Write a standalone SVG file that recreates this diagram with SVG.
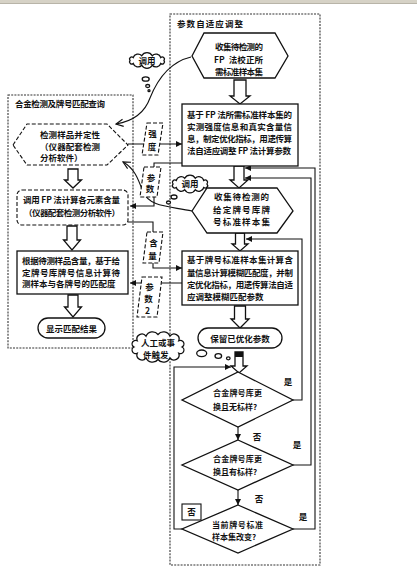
<svg xmlns="http://www.w3.org/2000/svg" width="417" height="581" viewBox="0 0 417 581">
<style>
.b{fill:#fff;stroke:#111;stroke-width:1.3}
.d{fill:#fff;stroke:#111;stroke-width:1.1;stroke-dasharray:4 2}
.c{fill:none;stroke:#333;stroke-width:1.1;stroke-dasharray:2 1.2}
.ln{fill:none;stroke:#111;stroke-width:1.1}
.t{font-family:"Noto Sans CJK SC","Noto Sans CJK JP",sans-serif;font-size:8.5px;font-weight:bold;fill:#111}
.m{text-anchor:middle}
.s{font-size:8px}
</style>
<defs>
<marker id="ah" viewBox="0 0 6 6" refX="6" refY="3" markerWidth="6" markerHeight="6" markerUnits="userSpaceOnUse" orient="auto"><path d="M0,0 L6,3 L0,6 z" fill="#111"/></marker>
<marker id="ov" viewBox="0 0 10 10" refX="9" refY="5" markerWidth="9" markerHeight="9" markerUnits="userSpaceOnUse" orient="auto"><path d="M1,1 L9,5 L1,9" fill="none" stroke="#111" stroke-width="1.3"/></marker>
</defs>
<rect x="0" y="0" width="417" height="581" fill="#fff"/>
<rect x="0" y="0" width="417" height="3" fill="#d6d2c6"/>
<line x1="0" y1="3.5" x2="417" y2="3.5" stroke="#b8b4a8" stroke-width="1"/>

<g id="container-left">
<rect class="c" x="8" y="95" width="125" height="253"/>
<text class="t" x="15" y="107" textLength="90">合金检测及牌号匹配查询</text>
</g>
<g id="container-right">
<rect class="c" x="170" y="14" width="150" height="551"/>
<text class="t" x="177" y="27" textLength="66">参数自适应调整</text>
</g>

<g id="connectors">
<path class="ln" d="M191,57 C170,62 158,78 150,98 C145,112 134,121 116,124" marker-end="url(#ov)"/>
<path class="ln" d="M192,211 C168,206 150,207 143,192 C138,178 134,168 123,162" marker-end="url(#ov)"/>
<path class="ln" d="M128,144 H182" marker-end="url(#ah)"/>
<path class="ln" d="M182,163 H154 V206 H130" marker-end="url(#ah)"/>
<path class="ln" d="M128,222 H153 V268 H182" marker-end="url(#ah)"/>
<path class="ln" d="M182,283 H130" marker-end="url(#ah)"/>
<path class="ln" d="M293,400 H302 V239 H246" marker-end="url(#ah)"/>
<path class="ln" d="M293,465 H311 V178 H245" marker-end="url(#ah)"/>
<path class="ln" d="M293,529 H315 V168 H245" marker-end="url(#ah)"/>
<path class="ln" d="M182,529 H174 V367 H231" marker-end="url(#ah)"/>
<path class="ln" d="M238,427 V440" marker-end="url(#ah)"/>
<path class="ln" d="M238,490 V505" marker-end="url(#ah)"/>
<polygon class="b" points="234,80 246,80 246,96 250,96 240,104 230,96 234,96"/>
<polygon class="b" points="234,166 244,166 244,180 248,180 239,188 230,180 234,180"/>
<polygon class="b" points="235.5,233 244.5,233 244.5,244 248,244 240,251 232,244 235.5,244"/>
<polygon class="b" points="234.5,306 245.5,306 245.5,319 249,319 240,328 231,319 234.5,319"/>
<polygon class="b" points="235,352 243,352 243,366 247,366 239,373 231,366 235,366"/>
<rect x="235" y="352" width="8" height="5" fill="#111"/>
<polygon class="b" points="68,169 78,169 78,180 81.5,180 73,188 64.5,180 68,180"/>
<polygon class="b" points="67,226 77,226 77,240 80.5,240 72,250 63.5,240 67,240"/>
<polygon class="b" points="68,295 78,295 78,307 81.5,307 73,317 64.5,307 68,307"/>
</g>

<g id="label-qiangdu">
<polygon class="d" points="147,123 163,123 158,155 142,155"/>
<text class="t m" x="152.5" y="136.5">强</text>
<text class="t m" x="152" y="149.5">度</text>
</g>
<g id="label-canshu">
<polygon class="d" points="144,167 161,167 157,197 140,197"/>
<text class="t m" x="151" y="180.5">参</text>
<text class="t m" x="150" y="192">数</text>
</g>
<g id="label-hanliang">
<polygon class="d" points="147,232 163,232 159,263 143,263"/>
<text class="t m" x="153.5" y="245.5">含</text>
<text class="t m" x="152.5" y="258.5">量</text>
</g>
<g id="label-canshu2">
<polygon class="d" points="142,277 162,277 157,317 137,317"/>
<text class="t m" x="149.5" y="290">参</text>
<text class="t m" x="148.5" y="301.5">数</text>
<text class="t m" x="147.5" y="313.5">2</text>
</g>

<g id="cloud-call-1">
<path class="b" d="M164,60.5 A2.2,2.2 0 0 1 160.75,63.44 A5,5 0 0 1 152.25,65.26 A6,6 0 0 1 141.75,65.26 A5,5 0 0 1 133.25,63.44 A2.2,2.2 0 0 1 130,60.5 A2.2,2.2 0 0 1 133.25,57.56 A5,5 0 0 1 141.75,55.74 A6,6 0 0 1 152.25,55.74 A5,5 0 0 1 160.75,57.56 A2.2,2.2 0 0 1 164,60.5 Z"/>
<ellipse class="b" cx="145.7" cy="79" rx="3.5" ry="2.2"/>
<ellipse class="b" cx="147.7" cy="86" rx="2" ry="1.5"/>
<ellipse class="b" cx="149" cy="90.7" rx="1" ry="1"/>
<text class="t m" x="147" y="63.5">调用</text>
</g>
<g id="cloud-call-2">
<path class="b" d="M207,184 A2.4,2.4 0 0 1 203.75,187.5 A5,5 0 0 1 195.25,189.7 A6,6 0 0 1 184.75,189.7 A5,5 0 0 1 176.25,187.5 A2.4,2.4 0 0 1 173,184 A2.4,2.4 0 0 1 176.25,180.5 A5,5 0 0 1 184.75,178.3 A6,6 0 0 1 195.25,178.3 A5,5 0 0 1 203.75,180.5 A2.4,2.4 0 0 1 207,184 Z"/>
<ellipse class="b" cx="174" cy="197" rx="3" ry="2"/>
<ellipse class="b" cx="168.5" cy="202.5" rx="2" ry="1.5"/>
<text class="t m" x="190" y="187.3">调用</text>
</g>
<g id="cloud-trigger">
<path class="b" d="M182,347 A3.5,3.5 0 0 1 178.8,353.25 A5,5 0 0 1 170,357.8 A7,7 0 0 1 158,359.5 A7,7 0 0 1 146,357.8 A5,5 0 0 1 137.2,353.25 A3.5,3.5 0 0 1 134,347 A3.5,3.5 0 0 1 137.2,340.75 A5,5 0 0 1 146,336.2 A7,7 0 0 1 158,334.5 A7,7 0 0 1 170,336.2 A5,5 0 0 1 178.8,340.75 A3.5,3.5 0 0 1 182,347 Z"/>
<ellipse class="b" cx="201.7" cy="353.3" rx="5" ry="3.3"/>
<ellipse class="b" cx="218.3" cy="356" rx="3.3" ry="2.3"/>
<ellipse class="b" cx="228.3" cy="358.3" rx="1.8" ry="1.5"/>
<text class="t" x="141" y="345.5" textLength="34">人工或事</text>
<text class="t" x="143" y="357.5">件触发</text>
</g>

<g id="node-detect">
<polygon class="d" points="13,145 27,124 107,124 128,145 107,165 27,165"/>
<text class="t" x="40" y="138" textLength="60">检测样品并定性</text>
<text class="t" x="40" y="149.5" textLength="60">（仪器配套检测</text>
<text class="t" x="40" y="161">分析软件）</text>
</g>
<g id="node-fp-calc">
<rect class="d" x="17" y="190" width="111" height="35" rx="5"/>
<text class="t" x="23" y="203" textLength="97" style="white-space:pre">调用 FP 法计算各元素含量</text>
<text class="t" x="24" y="216" textLength="96">（仪器配套检测分析软件）</text>
</g>
<g id="node-match">
<rect class="b" x="17" y="251" width="111" height="43"/>
<text class="t" x="22" y="264" textLength="98">根据待测样品含量，基于给</text>
<text class="t" x="22" y="275.5" textLength="98">定牌号库牌号信息计算待</text>
<text class="t" x="22" y="287">测样本与各牌号的匹配度</text>
</g>
<g id="node-show">
<rect class="b" x="38" y="318" width="67" height="20" rx="10"/>
<text class="t m" x="71.5" y="331.5">显示匹配结果</text>
</g>

<g id="node-collect-fp">
<polygon class="b" points="192,56 204,33 275,33 288,56 275,78 204,78"/>
<text class="t" x="215" y="50" textLength="48">收集待检测的</text>
<text class="t" x="214" y="63" textLength="49" style="white-space:pre">FP  法校正所</text>
<text class="t" x="215" y="75" textLength="48">需标准样本集</text>
</g>
<g id="node-fp-opt">
<rect class="b" x="182" y="104" width="116" height="62"/>
<text class="t" x="187" y="117.5" textLength="105" style="white-space:pre">基于 FP 法所需标准样本集的</text>
<text class="t" x="187" y="130" textLength="105">实测强度信息和真实含量信</text>
<text class="t" x="187" y="142" textLength="105">息，制定优化指标，用遗传算</text>
<text class="t" x="187" y="154" textLength="104" style="white-space:pre">法自适应调整 FP 法计算参数</text>
</g>
<g id="node-collect-grade">
<polygon class="b" points="192,211 207,188 277,188 293,211 277,233 207,233"/>
<text class="t" x="214" y="200" textLength="55">收集待检测的</text>
<text class="t" x="213" y="213" textLength="57">给定牌号库牌</text>
<text class="t" x="213" y="225" textLength="57">号标准样本集</text>
</g>
<g id="node-fuzzy-opt">
<rect class="b" x="182" y="251" width="116" height="54"/>
<text class="t" x="187" y="263" textLength="106">基于牌号标准样本集计算含</text>
<text class="t" x="187" y="276" textLength="106">量信息计算模糊匹配度，并制</text>
<text class="t" x="187" y="288" textLength="106">定优化指标，用遗传算法自适</text>
<text class="t" x="187" y="300">应调整模糊匹配参数</text>
</g>
<g id="node-keep">
<rect class="b" x="198" y="328" width="84" height="20" rx="10"/>
<text class="t m" x="240" y="341.5">保留已优化参数</text>
</g>
<g id="node-d1">
<polygon class="b" points="238,372 293,400 238,427 182,400"/>
<text class="t s" x="213" y="396" textLength="49">合金牌号库更</text>
<text class="t s" x="213" y="410">换且无标样?</text>
</g>
<g id="node-d2">
<polygon class="b" points="238,440 293,465 238,490 182,465"/>
<text class="t s" x="213" y="462" textLength="49">合金牌号库更</text>
<text class="t s" x="213" y="475">换且有标样?</text>
</g>
<g id="node-d3">
<polygon class="b" points="238,505 293,529 238,553 182,529"/>
<text class="t s" x="212" y="528" textLength="51">当前牌号标准</text>
<text class="t s" x="212" y="540">样本集改变?</text>
</g>
<g id="edge-labels">
<text class="t m" x="288" y="385">是</text>
<text class="t m" x="297" y="448">是</text>
<text class="t m" x="303" y="520">是</text>
<text class="t m" x="257" y="440">否</text>
<text class="t m" x="259" y="502">否</text>
<rect class="b" x="182" y="504" width="19" height="16" style="stroke-width:1.1"/>
<text class="t m" x="191.5" y="515">否</text>
</g>
</svg>
